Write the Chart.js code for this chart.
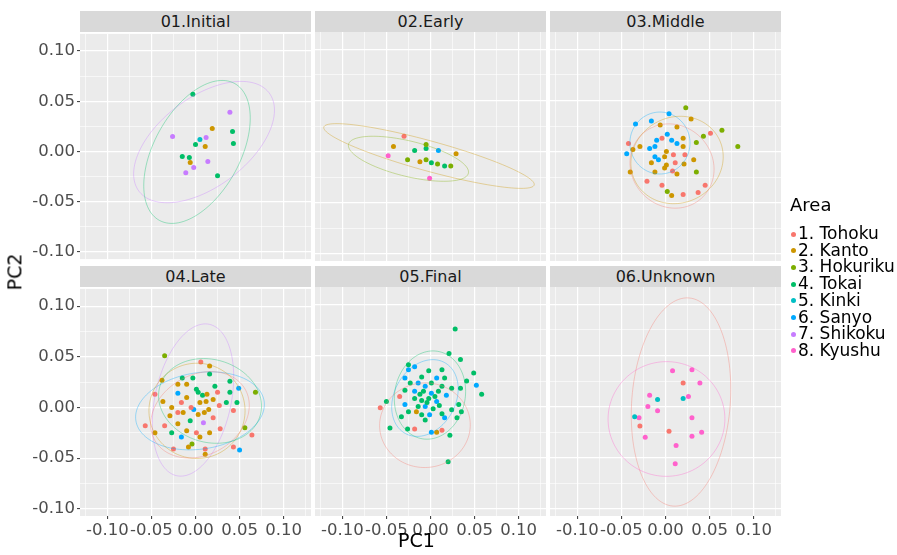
<!DOCTYPE html>
<html>
<head>
<meta charset="utf-8">
<script src="https://cdn.jsdelivr.net/npm/chart.js@4.4.0/dist/chart.umd.min.js"></script>
<style>
  body { margin: 0; background: #fff; }
  #wrap { position: relative; width: 897px; height: 555px; overflow: hidden; font-family: "DejaVu Sans", sans-serif; }
  #wrap canvas, .strip, .txt { position: absolute; }
  .strip { background: #d9d9d9; color: #1a1a1a; font-size: 16px; text-align: center; height: 21px; line-height: 21px; }
  .txt { white-space: nowrap; color: #000; }
  .dot { display: inline-block; width: 5px; height: 5px; border-radius: 50%; margin-right: 2px; vertical-align: middle; }
</style>
</head>
<body>
<div id="wrap"></div>
<script>
// facets and legend
const periods = ["01.Initial", "02.Early", "03.Middle", "04.Late", "05.Final", "06.Unknown"];
const areas = ["1. Tohoku", "2. Kanto", "3. Hokuriku", "4. Tokai", "5. Kinki", "6. Sanyo", "7. Shikoku", "8. Kyushu"];
const areaColors = ["#F8766D", "#CD9600", "#7CAE00", "#00BE67", "#00BFC4", "#00A9FF", "#C77CFF", "#FF61CC"];

// axis ticks
const majorTicks = [-0.10, -0.05, 0.00, 0.05, 0.10];
const minorTicks = [-0.125, -0.075, -0.025, 0.025, 0.075, 0.125];

// points: [PC1, PC2, area]
const initialPts = [
  [-0.003, 0.057, 4], [0.039, 0.039, 7], [0.019, 0.023, 2], [0.042, 0.020, 4],
  [-0.026, 0.015, 7], [0.005, 0.012, 5], [0.012, 0.014, 7], [0.000, 0.007, 4],
  [0.011, 0.005, 2], [0.043, 0.008, 4], [-0.015, -0.005, 4], [-0.007, -0.006, 4],
  [-0.006, -0.011, 2], [0.014, -0.010, 7], [-0.002, -0.016, 7], [-0.011, -0.021, 7],
  [0.025, -0.024, 4]
];
const earlyPts = [
  [-0.030, 0.015, 1], [-0.042, 0.005, 2], [-0.048, -0.004, 8], [-0.018, 0.001, 4],
  [-0.005, 0.007, 3], [-0.005, 0.003, 4], [0.009, 0.001, 6], [0.029, -0.002, 2],
  [-0.026, -0.008, 3], [-0.012, -0.010, 2], [-0.005, -0.008, 3], [0.001, -0.011, 4],
  [0.008, -0.012, 3], [0.016, -0.014, 4], [0.023, -0.014, 3], [-0.001, -0.026, 8]
];
const middlePts = [
  [0.023, 0.043, 3], [0.004, 0.037, 6], [-0.016, 0.030, 6], [-0.034, 0.027, 6],
  [-0.006, 0.026, 2], [0.029, 0.032, 2], [0.013, 0.024, 2], [0.064, 0.021, 3],
  [0.051, 0.018, 1], [0.043, 0.015, 3], [0.020, 0.013, 2], [0.002, 0.017, 6],
  [-0.004, 0.013, 1], [0.007, 0.011, 6], [0.013, 0.008, 6], [-0.010, 0.011, 6],
  [-0.042, 0.008, 1], [-0.029, 0.005, 2], [-0.018, 0.003, 6], [-0.012, 0.005, 6],
  [-0.037, 0.002, 2], [-0.044, -0.002, 6], [0.082, 0.005, 3], [0.035, 0.009, 3],
  [0.020, 0.005, 2], [0.001, 0.000, 2], [-0.012, -0.005, 6], [-0.008, -0.008, 6],
  [-0.001, -0.005, 2], [0.009, -0.003, 1], [0.022, -0.003, 1], [0.032, -0.008, 2],
  [-0.016, -0.011, 2], [0.001, -0.013, 2], [0.011, -0.011, 1], [0.021, -0.012, 2],
  [-0.012, -0.020, 2], [-0.001, -0.016, 2], [0.008, -0.019, 1], [0.013, -0.022, 2],
  [0.035, -0.020, 3], [-0.040, -0.020, 2], [-0.021, -0.029, 1], [-0.004, -0.033, 1],
  [0.045, -0.033, 1], [0.002, -0.039, 3], [0.007, -0.043, 2], [0.020, -0.042, 1],
  [0.037, -0.040, 1]
];
const latePts = [
  [-0.035, 0.051, 3], [0.006, 0.045, 1], [0.016, 0.041, 2], [0.016, 0.033, 4],
  [-0.015, 0.029, 4], [-0.003, 0.029, 4], [0.039, 0.026, 4], [-0.038, 0.027, 2],
  [-0.020, 0.023, 2], [-0.010, 0.023, 2], [0.022, 0.021, 4], [0.049, 0.019, 6],
  [0.039, 0.015, 4], [0.068, 0.015, 3], [0.001, 0.018, 4], [0.003, 0.015, 4],
  [-0.020, 0.014, 6], [-0.046, 0.013, 1], [0.013, 0.013, 2], [-0.010, 0.010, 2],
  [0.020, 0.008, 2], [0.035, 0.005, 4], [0.047, 0.005, 4], [-0.037, 0.006, 2],
  [-0.016, 0.005, 1], [0.005, 0.005, 2], [0.027, 0.002, 1], [-0.027, 0.000, 2],
  [-0.002, -0.002, 6], [0.015, -0.002, 2], [-0.014, -0.005, 2], [0.043, -0.003, 1],
  [0.003, -0.007, 2], [-0.029, -0.008, 2], [0.020, -0.010, 1], [-0.006, -0.013, 4],
  [0.009, -0.015, 7], [-0.020, -0.016, 2], [-0.035, -0.018, 1], [-0.057, -0.018, 1],
  [0.056, -0.020, 3], [-0.046, -0.025, 2], [-0.027, -0.025, 4], [-0.010, -0.023, 2],
  [0.001, -0.025, 1], [0.016, -0.025, 2], [0.028, -0.021, 1], [0.064, -0.027, 1],
  [-0.016, -0.029, 6], [0.005, -0.029, 2], [-0.004, -0.036, 3], [-0.025, -0.041, 1],
  [0.011, -0.041, 1], [0.043, -0.039, 1], [0.050, -0.042, 6], [0.011, -0.046, 2],
  [-0.008, -0.039, 2], [0.008, 0.012, 4], [0.012, 0.006, 2], [-0.005, 0.000, 1],
  [0.010, -0.005, 2], [-0.020, -0.005, 1], [0.025, 0.015, 1]
];
const finalPts = [
  [0.028, 0.076, 4], [0.021, 0.052, 4], [0.034, 0.046, 4], [-0.025, 0.041, 4],
  [-0.018, 0.039, 6], [-0.025, 0.036, 6], [-0.002, 0.035, 4], [0.013, 0.036, 4],
  [0.049, 0.033, 4], [-0.029, 0.028, 6], [-0.010, 0.029, 4], [0.007, 0.028, 6],
  [0.016, 0.028, 4], [0.041, 0.025, 4], [0.052, 0.021, 6], [-0.023, 0.023, 4],
  [-0.014, 0.023, 6], [-0.006, 0.020, 6], [0.001, 0.023, 4], [0.013, 0.020, 4],
  [0.024, 0.018, 4], [0.034, 0.018, 4], [0.058, 0.012, 4], [-0.029, 0.016, 4],
  [-0.018, 0.015, 6], [-0.008, 0.015, 4], [0.001, 0.013, 6], [0.009, 0.015, 4],
  [0.018, 0.011, 6], [-0.035, 0.010, 1], [-0.018, 0.008, 4], [-0.010, 0.006, 4],
  [-0.002, 0.008, 4], [0.007, 0.005, 6], [-0.050, 0.005, 4], [-0.029, 0.002, 6],
  [-0.014, 0.000, 4], [-0.006, 0.000, 6], [0.003, -0.002, 4], [0.032, 0.002, 4],
  [-0.057, -0.001, 1], [0.035, -0.005, 4], [0.024, -0.003, 4], [-0.025, -0.005, 4],
  [-0.016, -0.005, 2], [-0.010, -0.008, 4], [-0.001, -0.008, 6], [0.013, -0.007, 4],
  [-0.033, -0.010, 4], [-0.006, -0.013, 4], [0.016, -0.011, 6], [0.030, -0.011, 4],
  [-0.046, -0.021, 4], [-0.026, -0.022, 4], [-0.018, -0.022, 1], [0.001, -0.025, 6],
  [0.007, -0.025, 2], [0.013, -0.023, 1], [0.022, -0.028, 4], [0.020, -0.054, 4],
  [-0.004, 0.004, 4], [0.005, 0.010, 4], [-0.012, 0.012, 4], [0.010, 0.001, 4]
];
const unknownPts = [
  [0.008, 0.035, 8], [0.030, 0.036, 8], [0.020, 0.023, 1], [0.039, 0.023, 8],
  [-0.018, 0.011, 8], [-0.009, 0.007, 5], [0.020, 0.008, 5], [0.026, 0.010, 8],
  [-0.020, 0.000, 8], [-0.009, -0.004, 8], [-0.035, -0.010, 5], [-0.030, -0.011, 8],
  [0.030, -0.011, 8], [-0.029, -0.019, 1], [0.004, -0.024, 1], [0.041, -0.025, 8],
  [0.030, -0.029, 8], [-0.023, -0.030, 8], [0.012, -0.038, 8], [0.011, -0.056, 8]
];
const panelPoints = [initialPts, earlyPts, middlePts, latePts, finalPts, unknownPts];

// 95% ellipses: [area, centre PC1, centre PC2, u PC1, u PC2, v PC1, v PC2]
const initialEll = [
  [7, 0.0097, 0.0094, 0.0734, 0.0494, 0.0315, -0.0347],
  [4, 0.0017, -0.0004, 0.0422, 0.0683, 0.0432, -0.0198]
];
const earlyEll = [
  [2, -0.0017, -0.0043, 0.1193, -0.0283, -0.0045, -0.0142],
  [3, -0.0250, -0.0070, 0.0680, -0.0140, -0.0040, -0.0170]
];
const middleEll = [
  [6, -0.0063, 0.0084, 0.0341, 0.0000, 0.0000, 0.0303],
  [2, 0.0131, -0.0082, 0.0520, 0.0080, -0.0060, 0.0420],
  [1, 0.0074, -0.0141, 0.0470, -0.0100, 0.0080, 0.0400]
];
const lateEll = [
  [7, -0.0028, 0.0074, 0.0184, 0.0747, 0.0423, -0.0077],
  [6, 0.0051, -0.0033, 0.0727, 0.0098, 0.0068, -0.0372],
  [2, 0.0017, -0.0033, 0.0545, 0.0000, 0.0000, 0.0470],
  [1, 0.0051, -0.0072, 0.0511, 0.0254, 0.0227, -0.0342],
  [4, 0.0165, 0.0065, 0.0568, -0.0147, -0.0136, -0.0391]
];
const finalEll = [
  [6, -0.0063, 0.0084, 0.0375, 0.0050, 0.0040, 0.0372],
  [4, -0.0006, 0.0113, 0.0400, 0.0100, -0.0060, 0.0420],
  [1, -0.0063, -0.0182, 0.0511, 0.0049, 0.0057, -0.0411]
];
const unknownEll = [
  [1, 0.0176, 0.0045, 0.0091, 0.1018, 0.0557, -0.0039],
  [8, 0.0011, -0.0121, 0.0659, 0.0059, 0.0068, -0.0558]
];
const panelEllipses = [initialEll, earlyEll, middleEll, lateEll, finalEll, unknownEll];

// ---- layout ----
const FONT = '"DejaVu Sans", sans-serif';
const X_MIN = -0.131, X_MAX = 0.131;
const Y_MIN = -0.107, Y_MAX = 0.117;
const colLeft = [80, 315, 550];
const rowTop = [32, 287];
const PW = 231, PH = 229;

Chart.defaults.font.family = FONT;

const wrap = document.getElementById("wrap");

const isMajor = v => Math.abs(v * 20 - Math.round(v * 20)) < 1e-6;
const tickList = (lo, hi) => majorTicks.concat(minorTicks)
  .filter(v => v >= lo && v <= hi).sort((a, b) => a - b).map(v => ({ value: v }));

const panelBg = {
  id: "panelBg",
  beforeDraw(chart) {
    const { ctx, chartArea: a } = chart;
    ctx.save();
    ctx.fillStyle = "#ebebeb";
    ctx.fillRect(a.left, a.top, a.width, a.height);
    ctx.restore();
  }
};

function ellipsePlugin(list) {
  return {
    id: "ellipses",
    afterDatasetsDraw(chart) {
      const { ctx, chartArea: a, scales } = chart;
      ctx.save();
      ctx.beginPath();
      ctx.rect(a.left, a.top, a.width, a.height);
      ctx.clip();
      ctx.lineWidth = 1;
      list.forEach(e => {
        const [area, cx, cy, ux, uy, vx, vy] = e;
        ctx.strokeStyle = areaColors[area - 1] + "5c";
        ctx.beginPath();
        for (let k = 0; k <= 120; k++) {
          const t = (k / 120) * Math.PI * 2;
          const px = scales.x.getPixelForValue(cx + ux * Math.cos(t) + vx * Math.sin(t));
          const py = scales.y.getPixelForValue(cy + uy * Math.cos(t) + vy * Math.sin(t));
          if (k === 0) ctx.moveTo(px, py); else ctx.lineTo(px, py);
        }
        ctx.closePath();
        ctx.stroke();
      });
      ctx.restore();
    }
  };
}

periods.forEach((name, i) => {
  const col = i % 3, row = Math.floor(i / 3);
  const showY = col === 0, showX = row === 1;
  const axisW = showY ? 80 : 0, padL = showY ? 0 : 10;
  const axisH = showX ? 30 : 0, padB = showX ? 0 : 10;
  const w = axisW + padL + PW + 10, h = 10 + PH + axisH + padB;

  const cv = document.createElement("canvas");
  cv.width = w; cv.height = h;
  cv.style.left = (colLeft[col] - axisW - padL) + "px";
  cv.style.top = (rowTop[row] - 10) + "px";
  cv.style.width = w + "px"; cv.style.height = h + "px";
  wrap.appendChild(cv);

  const strip = document.createElement("div");
  strip.className = "strip";
  strip.textContent = name;
  strip.style.left = colLeft[col] + "px";
  strip.style.top = (rowTop[row] - 21) + "px";
  strip.style.width = PW + "px";
  wrap.appendChild(strip);

  const pts = panelPoints[i];
  const datasets = areas.map((a, k) => ({
    label: a,
    data: pts.filter(p => p[2] === k + 1).map(p => ({ x: p[0], y: p[1] })),
    backgroundColor: areaColors[k],
    borderWidth: 0,
    pointRadius: 2.5
  }));

  const gridOpts = show => ({
    color: "#ffffff",
    lineWidth: c => (c.tick && isMajor(c.tick.value) ? 1.2 : 0.6),
    drawTicks: show,
    tickLength: 3,
    tickWidth: 1,
    tickColor: c => (c.tick && isMajor(c.tick.value) ? "#333333" : "rgba(0,0,0,0)")
  });
  const tickOpts = show => ({
    display: show,
    autoSkip: false,
    maxRotation: 0,
    minRotation: 0,
    padding: 2,
    color: "#4d4d4d",
    font: { family: FONT, size: 16.5 },
    callback: v => (isMajor(v) ? v.toFixed(2) : "")
  });

  new Chart(cv, {
    type: "scatter",
    data: { datasets },
    options: {
      responsive: false,
      devicePixelRatio: 1,
      animation: false,
      events: [],
      layout: { padding: { left: padL, right: 10, top: 10, bottom: padB } },
      plugins: { legend: { display: false }, tooltip: { enabled: false } },
      scales: {
        x: {
          type: "linear", min: X_MIN, max: X_MAX,
          afterBuildTicks: s => { s.ticks = tickList(X_MIN, X_MAX); },
          afterFit: s => { s.height = axisH; },
          border: { display: false },
          grid: gridOpts(showX),
          ticks: tickOpts(showX)
        },
        y: {
          type: "linear", min: Y_MIN, max: Y_MAX,
          afterBuildTicks: s => { s.ticks = tickList(Y_MIN, Y_MAX); },
          afterFit: s => { s.width = axisW; },
          border: { display: false },
          grid: gridOpts(showY),
          ticks: tickOpts(showY)
        }
      }
    },
    plugins: [panelBg, ellipsePlugin(panelEllipses[i])]
  });
});

// axis titles
const pc1 = document.createElement("div");
pc1.className = "txt";
pc1.textContent = "PC1";
pc1.style.cssText += "font-size:19px; left:398px; top:529px;";
wrap.appendChild(pc1);

const pc2 = document.createElement("div");
pc2.className = "txt";
pc2.textContent = "PC2";
pc2.style.cssText += "font-size:19px; left:-4px; top:261px; transform:rotate(-90deg);";
wrap.appendChild(pc2);

// legend
const title = document.createElement("div");
title.className = "txt";
title.textContent = "Area";
title.style.cssText += "font-size:18px; left:790px; top:194px;";
wrap.appendChild(title);

areas.forEach((a, k) => {
  const item = document.createElement("div");
  item.className = "txt";
  item.style.cssText += "font-size:17px; left:791px; line-height:17px; top:" + (225 + k * 16.7) + "px;";
  const dot = document.createElement("span");
  dot.className = "dot";
  dot.style.background = areaColors[k];
  item.appendChild(dot);
  item.appendChild(document.createTextNode(a));
  wrap.appendChild(item);
});
</script>
</body>
</html>
